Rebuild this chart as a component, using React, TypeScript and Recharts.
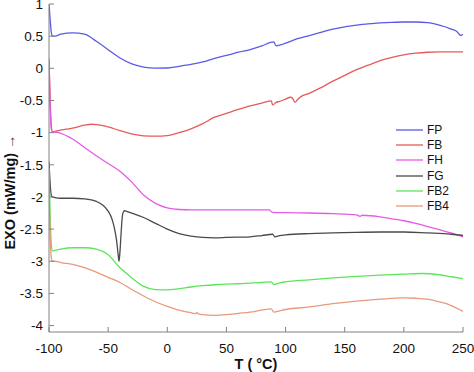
import React from "react";
import { LineChart, Line, XAxis, YAxis, Legend, Label } from "recharts";

const fpT = [-100, -99, -98, -97, -95, -90, -80, -70, -60, -50, -40, -30, -20, -10, 0, 10, 20, 30, 40, 50, 60, 70, 80, 90, 92, 95, 100, 110, 120, 130, 140, 150, 160, 170, 180, 190, 200, 210, 220, 230, 240, 245, 248, 250];
const fpV = [1.0, 0.75, 0.55, 0.5, 0.5, 0.53, 0.55, 0.53, 0.42, 0.29, 0.16, 0.07, 0.02, 0.003, 0.005, 0.03, 0.06, 0.1, 0.155, 0.2, 0.25, 0.29, 0.35, 0.41, 0.35, 0.36, 0.39, 0.46, 0.51, 0.56, 0.61, 0.645, 0.67, 0.69, 0.705, 0.715, 0.72, 0.72, 0.71, 0.67, 0.61, 0.57, 0.51, 0.53];

const fbT = [-100, -99, -98, -97, -95, -90, -80, -70, -64, -60, -50, -40, -30, -20, -10, 0, 10, 20, 30, 40, 50, 60, 70, 80, 88, 89, 92, 95, 100, 104, 106, 108, 110, 113, 120, 130, 140, 150, 160, 170, 180, 190, 200, 210, 220, 230, 240, 250];
const fbV = [0.15, -0.5, -0.9, -0.99, -0.98, -0.96, -0.93, -0.885, -0.87, -0.875, -0.91, -0.97, -1.02, -1.05, -1.055, -1.045, -1.0, -0.94, -0.86, -0.76, -0.7, -0.64, -0.585, -0.54, -0.505, -0.57, -0.53, -0.515, -0.48, -0.45, -0.47, -0.53, -0.49, -0.44, -0.39, -0.3, -0.2, -0.11, -0.02, 0.05, 0.12, 0.17, 0.21, 0.235, 0.25, 0.255, 0.255, 0.255];

const fhT = [-100, -99, -98, -97, -95, -90, -80, -70, -60, -50, -40, -30, -20, -10, 0, 10, 20, 40, 60, 86, 89, 100, 120, 140, 160, 163, 165, 180, 190, 200, 210, 220, 230, 240, 250];
const fhV = [0.1, -0.6, -0.95, -0.99, -0.99, -1.01, -1.1, -1.23, -1.36, -1.48, -1.6, -1.77, -1.97, -2.1, -2.17, -2.195, -2.2, -2.2, -2.2, -2.2, -2.24, -2.245, -2.25, -2.26, -2.28, -2.3, -2.285, -2.31, -2.34, -2.37, -2.41, -2.46, -2.51, -2.56, -2.62];

const fgT = [-100, -99, -98, -97, -95, -90, -80, -70, -60, -55, -50, -47, -45, -43, -41.5, -40.8, -40, -39, -38, -37, -36, -35, -30, -20, -10, 0, 10, 20, 30, 40, 50, 60, 70, 80, 89, 91, 95, 100, 120, 140, 160, 180, 200, 220, 240, 250];
const fgV = [-1.45, -1.8, -1.98, -2.0, -2.01, -2.02, -2.02, -2.03, -2.07, -2.12, -2.22, -2.33, -2.46, -2.66, -2.9, -3.0, -2.85, -2.55, -2.3, -2.23, -2.215, -2.22, -2.25, -2.32, -2.41, -2.5, -2.57, -2.61, -2.63, -2.635, -2.63, -2.625, -2.62, -2.6, -2.58, -2.62, -2.6, -2.59, -2.57, -2.56, -2.55, -2.545, -2.545, -2.56, -2.58, -2.6];

const fb2T = [-100, -99, -98, -97, -95, -90, -80, -70, -60, -50, -40, -35, -30, -20, -10, 0, 10, 20, 30, 40, 50, 60, 70, 80, 88, 90, 95, 100, 120, 140, 160, 180, 200, 215, 230, 240, 250];
const fb2V = [-1.55, -2.3, -2.75, -2.84, -2.83, -2.81, -2.79, -2.79, -2.81, -2.9, -3.1, -3.18, -3.26, -3.39, -3.44, -3.445, -3.425, -3.4, -3.38, -3.365, -3.355, -3.35, -3.34, -3.33, -3.32, -3.36, -3.335, -3.32, -3.29, -3.26, -3.235, -3.215, -3.2, -3.19, -3.21, -3.24, -3.27];

const fb4T = [-100, -99, -98, -97, -95, -90, -80, -70, -60, -50, -40, -30, -20, -10, 0, 10, 20, 24, 25, 26, 30, 40, 50, 60, 70, 80, 88, 90, 95, 100, 120, 140, 160, 180, 200, 210, 220, 230, 233, 240, 250];
const fb4V = [-1.9, -2.6, -2.95, -3.0, -3.0, -3.02, -3.05, -3.1, -3.17, -3.25, -3.33, -3.44, -3.54, -3.63, -3.7, -3.76, -3.8, -3.815, -3.795, -3.82, -3.83, -3.84, -3.83, -3.81, -3.79, -3.76, -3.74, -3.79, -3.77, -3.75, -3.71, -3.66, -3.62, -3.59, -3.57, -3.575, -3.59, -3.63, -3.645, -3.69, -3.78];

const seriesNames = ["FP", "FB", "FH", "FG", "FB2", "FB4"];
const seriesColors = ["#5a5ae6", "#e65a5a", "#e65ae6", "#4a4a4a", "#5ae65a", "#e89a7a"];

const xTicks = [-100, -50, 0, 50, 100, 150, 200, 250];
const yTicks = [-4, -3.5, -3, -2.5, -2, -1.5, -1, -0.5, 0, 0.5, 1];

const zip = (ts: number[], vs: number[]) => ts.map((t, i) => ({ t, v: vs[i] }));

const series = [
  zip(fpT, fpV),
  zip(fbT, fbV),
  zip(fhT, fhV),
  zip(fgT, fgV),
  zip(fb2T, fb2V),
  zip(fb4T, fb4V),
];

const font = "'Liberation Sans', Arial, sans-serif";
const axisColor = "#808080";
const tickStyle = { fill: "#111", fontSize: 13.5, fontFamily: font };

const renderLegend = () => (
  <div style={{ fontFamily: font, fontSize: 12, color: "#111" }}>
    {seriesNames.map((name, i) => (
      <div key={name} style={{ display: "flex", alignItems: "center", height: 15.3 }}>
        <svg width={31} height={4} style={{ display: "block" }}>
          <line x1={0} y1={2} x2={27} y2={2} stroke={seriesColors[i]} strokeWidth={1.3} />
        </svg>
        <span>{name}</span>
      </div>
    ))}
  </div>
);

const YLabel = () => (
  <text
    transform="translate(15,192) rotate(-90)"
    textAnchor="middle"
    fontFamily={font}
    fontSize={14.5}
    fontWeight="bold"
    fill="#111"
  >
    EXO (mW/mg){" "}
    <tspan fontWeight="normal" fill="#444">→</tspan>
  </text>
);

export default function App() {
  return (
    <div style={{ position: "absolute", left: 0, top: 0, background: "#fff" }}>
      <LineChart width={474} height={372} margin={{ top: 4, right: 11, bottom: 0, left: 0 }}>
        <XAxis
          dataKey="t"
          type="number"
          domain={[-100, 250]}
          ticks={xTicks}
          allowDataOverflow
          height={40}
          stroke={axisColor}
          tickSize={-5}
          tickMargin={16}
          tick={tickStyle}
          interval={0}
        >
          <Label
            value="T ( °C)"
            position="insideBottom"
            offset={3}
            fontFamily={font}
            fontSize={14.5}
            fontWeight="bold"
            fill="#111"
          />
        </XAxis>
        <XAxis
          xAxisId="top"
          orientation="top"
          type="number"
          domain={[-100, 250]}
          ticks={xTicks}
          height={0}
          stroke={axisColor}
          tickSize={-5}
          tick={false}
          interval={0}
        />
        <YAxis
          type="number"
          domain={[-4.1, 1]}
          ticks={yTicks}
          allowDataOverflow
          width={49}
          stroke={axisColor}
          tickSize={-5}
          tickMargin={11}
          tick={tickStyle}
          interval={0}
        >
          <Label content={YLabel} />
        </YAxis>
        <YAxis
          yAxisId="right"
          orientation="right"
          type="number"
          domain={[-4.1, 1]}
          ticks={yTicks}
          allowDataOverflow
          width={0}
          stroke={axisColor}
          tickSize={-5}
          tick={false}
          interval={0}
        />
        <Legend
          layout="vertical"
          align="center"
          verticalAlign="middle"
          content={renderLegend}
          wrapperStyle={{ position: "absolute", left: 396, top: 122, width: "auto" }}
        />
        {series.map((data, i) => (
          <Line
            key={seriesNames[i]}
            data={data}
            dataKey="v"
            name={seriesNames[i]}
            type="monotone"
            stroke={seriesColors[i]}
            strokeWidth={1.3}
            dot={false}
            activeDot={false}
            isAnimationActive={false}
          />
        ))}
      </LineChart>
    </div>
  );
}
